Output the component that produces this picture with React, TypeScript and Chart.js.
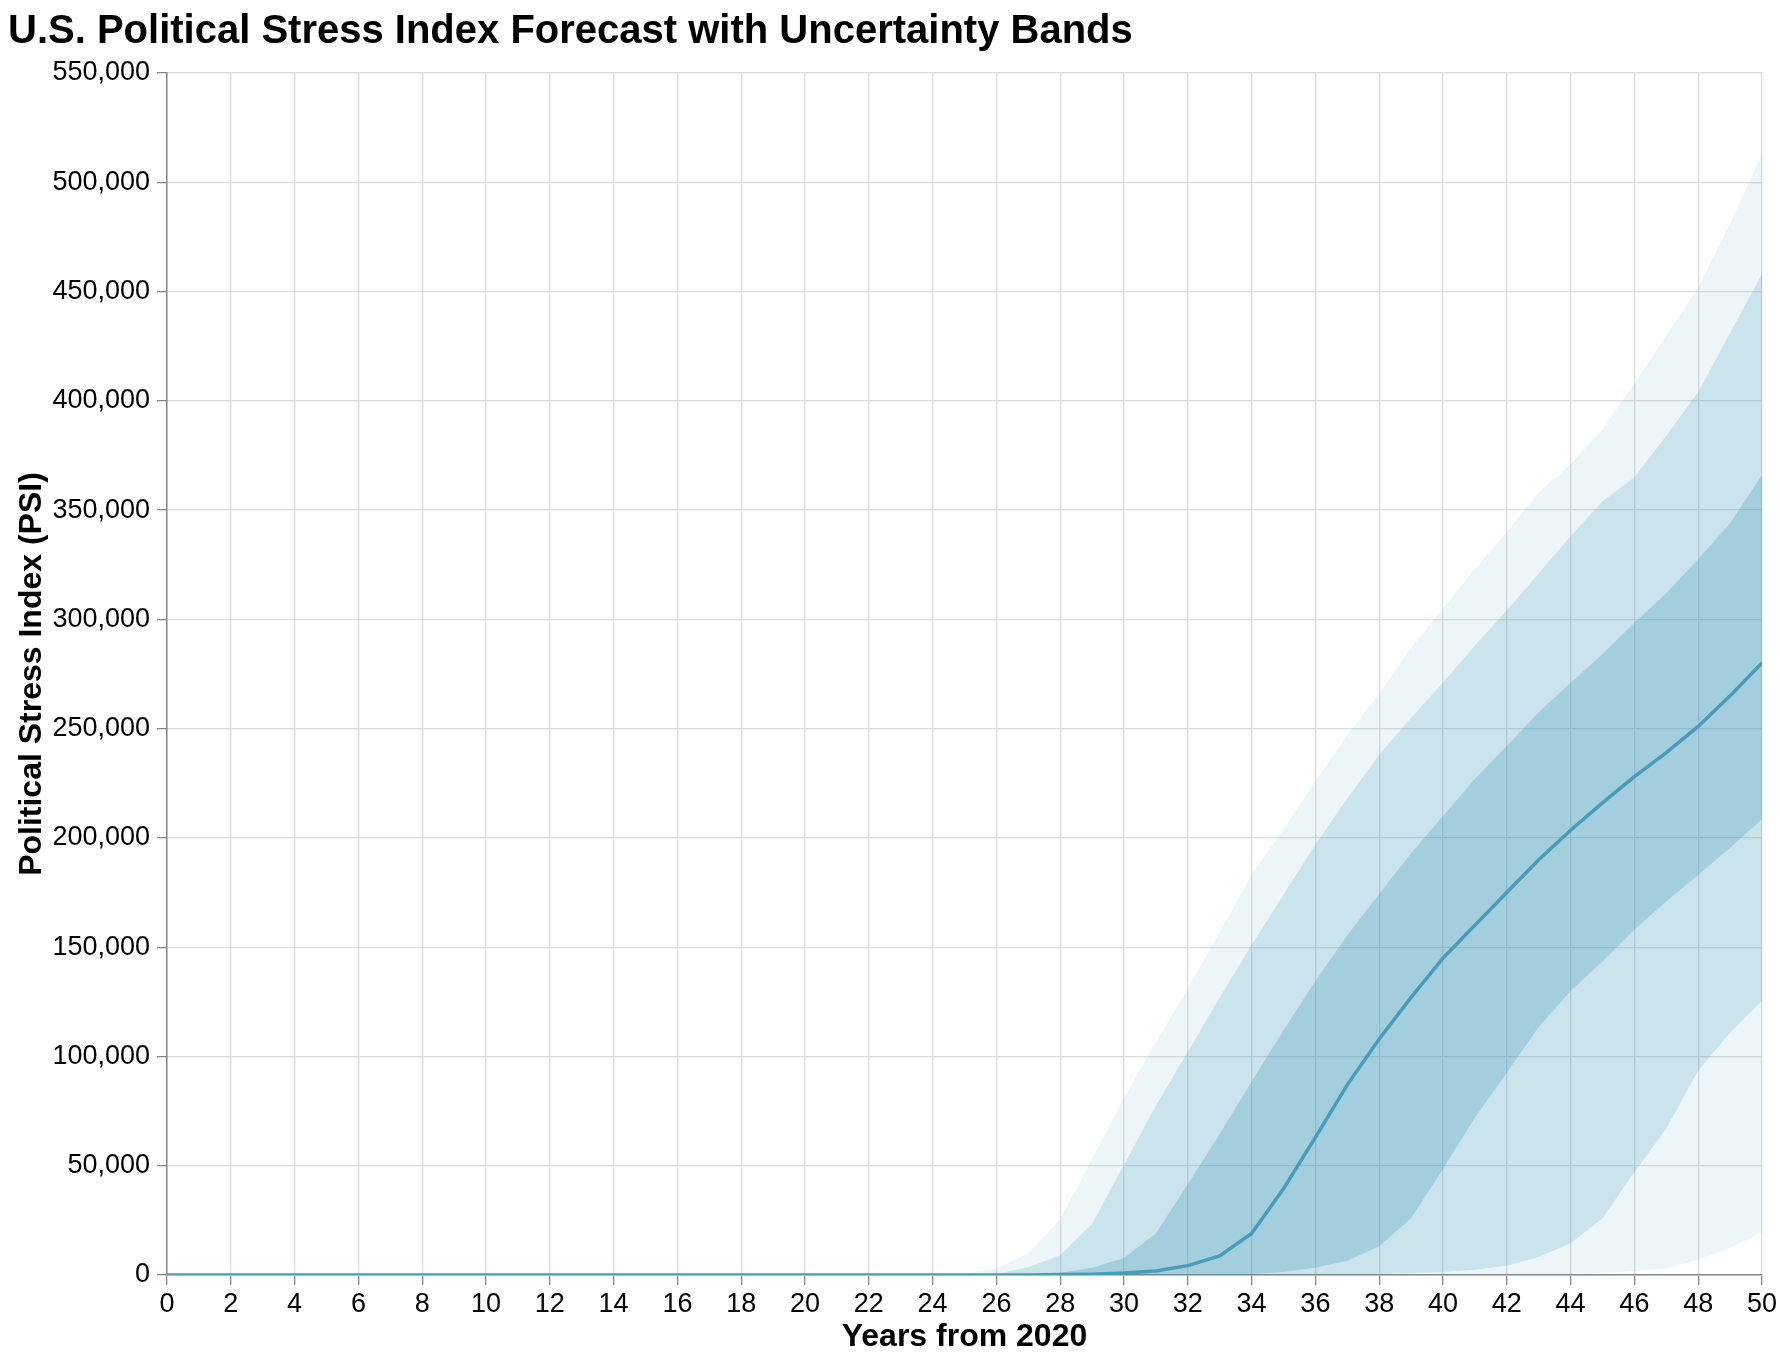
import { useEffect, useRef } from "react";
import { Chart, registerables } from "chart.js";
import type { ChartConfiguration, Plugin } from "chart.js";

Chart.register(...registerables);

const FONT = "'Liberation Sans', Arial, Helvetica, sans-serif";
const TITLE = "U.S. Political Stress Index Forecast with Uncertainty Bands";

// Years from 2020
const years = [
  0, 1, 2, 3, 4, 5, 6, 7, 8, 9, 10, 11, 12, 13, 14, 15, 16, 17, 18, 19, 20,
  21, 22, 23, 24, 25, 26, 27, 28, 29, 30, 31, 32, 33, 34, 35, 36, 37, 38, 39,
  40, 41, 42, 43, 44, 45, 46, 47, 48, 49, 50,
];

// first 25 years are flat at zero for every series
const zeros = [0, 0, 0, 0, 0, 0, 0, 0, 0, 0, 0, 0, 0, 0, 0, 0, 0, 0, 0, 0, 0, 0, 0, 0, 0];

// 95% band
const outerLower = [
  ...zeros,
  0, 0, 0, 0, 0, 0, 0, 0, 0, 0, 0, 0, 0, 0, 0, 0, 0, 0, 200, 500, 900, 1800,
  3000, 7000, 12300, 19600,
];
const outerUpper = [
  ...zeros,
  500, 3000, 10000, 25500, 53000, 81000, 106500, 131000, 157000, 183000,
  204000, 226000, 247000, 266000, 287000, 305000, 323000, 340000, 358000,
  371000, 387000, 408000, 430000, 452000, 481000, 513000,
];

// 80% band
const middleLower = [
  ...zeros,
  0, 0, 0, 0, 0, 0, 0, 0, 0, 0, 0, 0, 200, 500, 900, 1400, 2400, 4200, 8200,
  14500, 26000, 47000, 67000, 93500, 111000, 125500,
];
const middleUpper = [
  ...zeros,
  0, 500, 3500, 9000, 23500, 50500, 77500, 102000, 127000, 151000, 174000,
  197000, 218000, 238000, 255000, 271000, 288000, 304000, 321000, 338000,
  354000, 365000, 384000, 404000, 431000, 458000,
];

// 50% band
const innerLower = [
  ...zeros,
  0, 0, 0, 0, 0, 0, 0, 0, 200, 500, 1400, 3300, 6500, 13200, 26000, 48500,
  72000, 92500, 113500, 130000, 143500, 158000, 171000, 183000, 195500, 208500,
];
const innerUpper = [
  ...zeros,
  0, 0, 500, 1000, 3300, 7800, 19000, 41500, 64500, 88500, 112000, 134500,
  155500, 174500, 193000, 210000, 227000, 242000, 257500, 271000, 284000,
  298500, 312000, 327500, 344000, 366000,
];

const median = [
  ...zeros,
  0, 0, 0, 200, 400, 900, 1800, 4300, 8700, 19000, 39500, 63000, 87000,
  108000, 127000, 145000, 160000, 175000, 190000, 203500, 216000, 228000,
  239000, 251000, 265000, 280000,
];

const yTicks = [0, 50000, 100000, 150000, 200000, 250000, 300000, 350000, 400000, 450000, 500000, 550000];

const toPoints = (values: number[]) => years.map((x, i) => ({ x, y: values[i] }));

const band = (values: number[], fillTo: number | false, alpha: number) => ({
  data: toPoints(values),
  borderWidth: 0,
  pointRadius: 0,
  borderColor: "rgba(0,0,0,0)",
  backgroundColor: `rgba(70, 156, 188, ${alpha})`,
  fill: fillTo === false ? false : { target: fillTo },
  order: 1,
});

const titlePlugin: Plugin<"line"> = {
  id: "chartTitle",
  afterDraw(chart) {
    const { ctx } = chart;
    ctx.save();
    ctx.font = `bold 40px ${FONT}`;
    ctx.fillStyle = "#000";
    ctx.textAlign = "left";
    ctx.textBaseline = "alphabetic";
    ctx.fillText(TITLE, 8, 43);
    ctx.restore();
  },
};

export default function App() {
  const canvasRef = useRef<HTMLCanvasElement>(null);
  const chartRef = useRef<Chart | null>(null);

  useEffect(() => {
    if (!canvasRef.current) return;
    if (chartRef.current) chartRef.current.destroy();

    const config: ChartConfiguration<"line"> = {
      type: "line",
      data: {
        datasets: [
          band(outerLower, false, 0),
          band(outerUpper, 0, 0.1),
          band(middleLower, false, 0),
          band(middleUpper, 2, 0.2),
          band(innerLower, false, 0),
          band(innerUpper, 4, 0.3),
          {
            data: toPoints(median),
            borderColor: "#4a9bb9",
            borderWidth: 3.5,
            pointRadius: 0,
            fill: false,
            order: -1,
          },
        ],
      },
      options: {
        responsive: false,
        animation: false,
        layout: { padding: { top: 73, right: 10, bottom: 0, left: 0 } },
        plugins: {
          legend: { display: false },
          tooltip: { enabled: false },
        },
        scales: {
          x: {
            type: "linear",
            min: 0,
            max: 50,
            ticks: {
              stepSize: 2,
              color: "#000",
              font: { family: FONT, size: 27 },
              padding: 3,
              maxRotation: 0,
              autoSkip: false,
            },
            grid: { color: "#dcdcdc", tickColor: "#888", tickLength: 10, lineWidth: 1.3 },
            border: { color: "#888", width: 1.5 },
            title: {
              display: true,
              text: "Years from 2020",
              color: "#000",
              font: { family: FONT, size: 32, weight: "bold" },
              padding: { top: 0, bottom: 8 },
            },
            afterFit(scale) {
              scale.height = 89;
            },
          },
          y: {
            type: "linear",
            min: 0,
            max: 550000,
            afterBuildTicks(scale) {
              scale.ticks = yTicks.map((value) => ({ value }));
            },
            ticks: {
              color: "#000",
              font: { family: FONT, size: 27 },
              padding: 7,
              callback: (v) => Number(v).toLocaleString("en-US"),
            },
            grid: { color: "#dcdcdc", tickColor: "#888", tickLength: 10, lineWidth: 1.3 },
            border: { color: "#888", width: 1.5 },
            title: {
              display: true,
              text: "Political Stress Index (PSI)",
              color: "#000",
              font: { family: FONT, size: 32, weight: "bold" },
              padding: { top: 13, bottom: 0 },
            },
            afterFit(scale) {
              scale.width = 167;
            },
          },
        },
      },
      plugins: [titlePlugin],
    };

    chartRef.current = new Chart(canvasRef.current, config);

    return () => {
      if (chartRef.current) {
        chartRef.current.destroy();
        chartRef.current = null;
      }
    };
  }, []);

  return (
    <div style={{ position: "absolute", left: 0, top: 0, width: 1780, height: 1364, background: "#fff" }}>
      <canvas ref={canvasRef} width={1780} height={1364}></canvas>
    </div>
  );
}
